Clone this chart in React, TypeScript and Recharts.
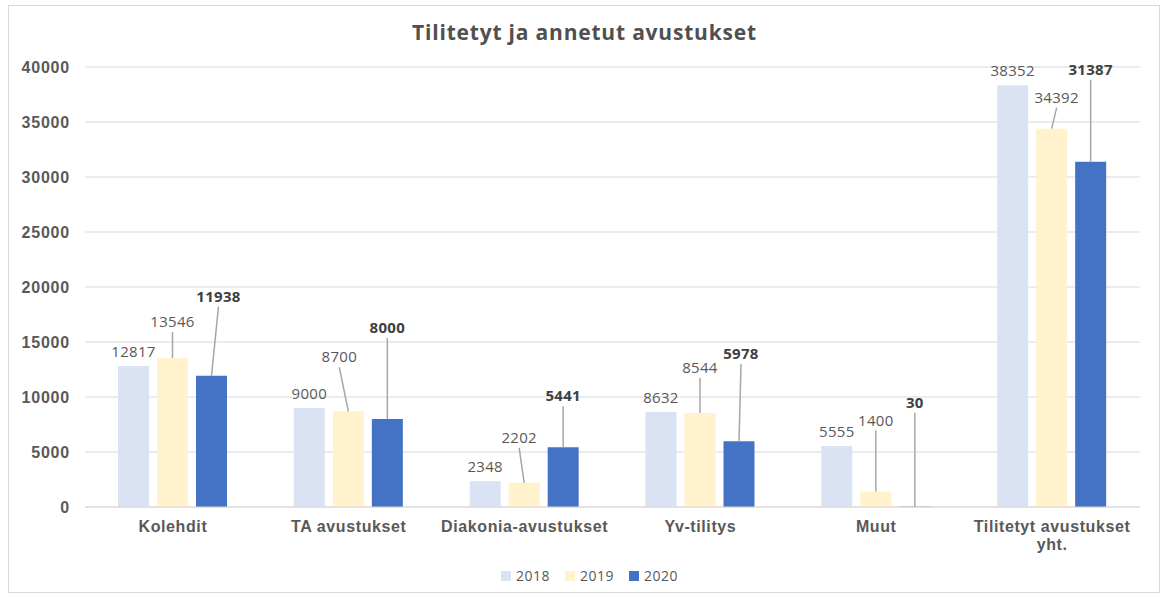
import { BarChart, Bar, XAxis, YAxis, CartesianGrid, Legend, LabelList } from 'recharts';

const categories = [
  'Kolehdit',
  'TA avustukset',
  'Diakonia-avustukset',
  'Yv-tilitys',
  'Muut',
  'Tilitetyt avustukset yht.',
];
const values2018 = [12817, 9000, 2348, 8632, 5555, 38352];
const values2019 = [13546, 8700, 2202, 8544, 1400, 34392];
const values2020 = [11938, 8000, 5441, 5978, 30, 31387];
const yTicks = [0, 5000, 10000, 15000, 20000, 25000, 30000, 35000, 40000];

// label placement (dx, dy from bar top centre), kept apart from the data
const callout2019 = [[0, -37], [-9, -55], [-5, -46], [0, -46], [0, -72], [5, -32]];
const callout2020 = [[7, -80], [0, -92], [0, -52], [2, -88], [0, -105], [0, -93]];

const data = categories.map((name, i) => ({
  name,
  y2018: values2018[i],
  y2019: values2019[i],
  y2020: values2020[i],
}));

const series = [
  { key: 'y2018', name: '2018', color: '#DAE3F3' },
  { key: 'y2019', name: '2019', color: '#FFF2CC' },
  { key: 'y2020', name: '2020', color: '#4472C4' },
];

const GREY = '#595959';
const LABEL_FONT = '"Open Sans", sans-serif';
const AXIS_FONT = '"Liberation Sans", Arial, sans-serif';

const plainLabel = (props: any) => {
  const { x, y, width, value } = props;
  return (
    <text
      x={x + width / 2}
      y={y - 15}
      textAnchor="middle"
      dominantBaseline="central"
      fontFamily={LABEL_FONT}
      fontSize={15}
      letterSpacing={0.3}
      fill={GREY}>
      {value}
    </text>
  );
};

const calloutLabel = (offsets: number[][], bold: boolean) => (props: any) => {
  const { x, y, width, value, index } = props;
  const [dx, dy] = offsets[index];
  const cx = x + width / 2;
  const lx = cx + dx;
  const ly = y + dy;
  return (
    <g>
      <line x1={lx} y1={ly + 11} x2={cx} y2={y} stroke="#A6A6A6" strokeWidth={1.5} />
      <text
        x={lx}
        y={ly}
        textAnchor="middle"
        dominantBaseline="central"
        fontFamily={LABEL_FONT}
        fontSize={15}
        fontWeight={bold ? 700 : 400}
        letterSpacing={0.3}
        fill={bold ? '#404040' : GREY}>
        {value}
      </text>
    </g>
  );
};

const CategoryTick = (props: any) => {
  const { x, y, payload } = props;
  const words = String(payload.value).split(' ');
  const lines: string[] = [];
  let cur = '';
  words.forEach((w) => {
    const next = cur ? cur + ' ' + w : w;
    if (next.length > 20 && cur) {
      lines.push(cur);
      cur = w;
    } else {
      cur = next;
    }
  });
  if (cur) lines.push(cur);
  return (
    <text
      x={x}
      y={y + 23}
      textAnchor="middle"
      fontFamily={AXIS_FONT}
      fontSize={16}
      fontWeight={700}
      letterSpacing={0.6}
      fill={GREY}>
      {lines.map((l, i) => (
        <tspan key={i} x={x} dy={i === 0 ? 0 : 18}>
          {l}
        </tspan>
      ))}
    </text>
  );
};

const LegendContent = () => (
  <div
    style={{
      display: 'flex',
      justifyContent: 'center',
      gap: 15,
      paddingLeft: 10,
      fontFamily: LABEL_FONT,
      fontSize: 14,
      letterSpacing: 0.5,
      color: GREY,
    }}>
    {series.map((s) => (
      <span key={s.key} style={{ display: 'inline-flex', alignItems: 'center' }}>
        <span
          style={{
            display: 'inline-block',
            width: 10,
            height: 10,
            background: s.color,
            marginRight: 5,
          }}
        />
        {s.name}
      </span>
    ))}
  </div>
);

export default function App() {
  return (
    <div style={{ position: 'absolute', left: 0, top: 0, width: 1169, height: 597, background: '#fff' }}>
      <div
        style={{
          position: 'absolute',
          left: 8,
          top: 5,
          width: 1152,
          height: 588,
          border: '1px solid #D9D9D9',
          boxSizing: 'border-box',
        }}
      />
      <div
        style={{
          position: 'absolute',
          left: 0,
          top: 18,
          width: 1169,
          textAlign: 'center',
          fontFamily: LABEL_FONT,
          fontSize: 21,
          fontWeight: 700,
          color: '#505050',
          letterSpacing: 0.8,
        }}>
        Tilitetyt ja annetut avustukset
      </div>
      <BarChart
        width={1169}
        height={597}
        data={data}
        margin={{ top: 67, right: 29, left: 0, bottom: 40 }}
        barSize={31}
        barGap={8}>
        <CartesianGrid vertical={false} stroke="#D9D9D9" />
        <XAxis
          dataKey="name"
          interval={0}
          tickLine={false}
          tickSize={0}
          axisLine={{ stroke: '#D9D9D9' }}
          tick={<CategoryTick />}
          height={50}
        />
        <YAxis
          width={85}
          domain={[0, 40000]}
          ticks={yTicks}
          tickLine={false}
          axisLine={false}
          tickSize={0}
          tickMargin={15}
          tick={{ fontFamily: AXIS_FONT, fontSize: 16, fontWeight: 700, fill: GREY, letterSpacing: 0.8 }}
        />
        <Legend
          verticalAlign="middle"
          align="center"
          layout="horizontal"
          content={<LegendContent />}
          wrapperStyle={{ top: 566, left: 0, width: 1169 }}
        />
        <Bar dataKey="y2018" name="2018" fill="#DAE3F3" isAnimationActive={false}>
          <LabelList dataKey="y2018" content={plainLabel} />
        </Bar>
        <Bar dataKey="y2019" name="2019" fill="#FFF2CC" isAnimationActive={false}>
          <LabelList dataKey="y2019" content={calloutLabel(callout2019, false)} />
        </Bar>
        <Bar dataKey="y2020" name="2020" fill="#4472C4" isAnimationActive={false}>
          <LabelList dataKey="y2020" content={calloutLabel(callout2020, true)} />
        </Bar>
      </BarChart>
    </div>
  );
}
